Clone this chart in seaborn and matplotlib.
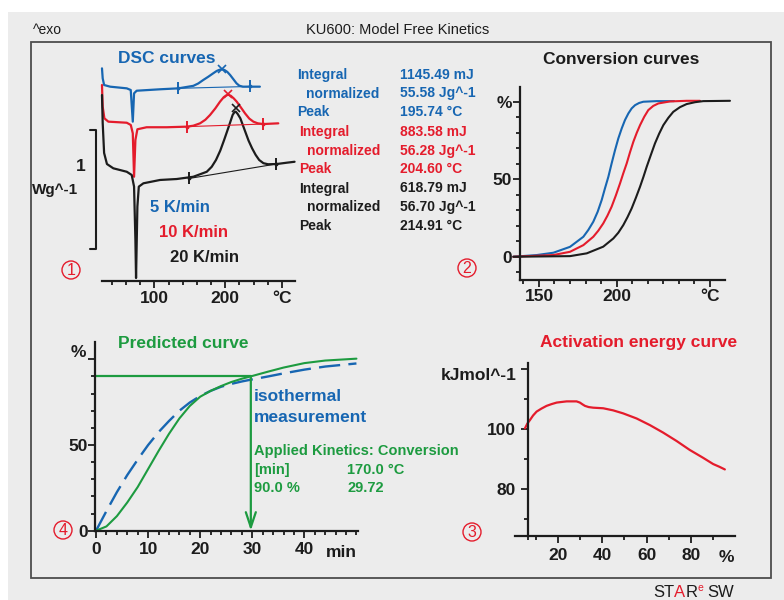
import matplotlib
matplotlib.use("Agg")
import matplotlib.pyplot as plt
from matplotlib import font_manager
from matplotlib.patches import Rectangle, Ellipse
import seaborn as sns

W, H = 784, 600

# ---------------- data ----------------
RATES = [5, 10, 20]                      # heating rates, K/min
INTEGRAL_MJ = [1145.49, 883.58, 618.79]
NORMALIZED_JG = [55.58, 56.28, 56.70]
PEAK_C = [195.74, 204.60, 214.91]
PEAK_HF = [1.785, 1.572, 1.452]          # height of the peak markers (W/g, offset scale)

# DSC heat flow (W/g, curves offset for display) versus temperature (°C)
dsc5_T = [26, 27, 29, 37.5, 61, 66.6, 69.5, 71.3, 75, 108, 134, 155, 162, 169, 176, 183,
          188, 192, 195.7, 199, 203, 207, 211, 216, 220, 225, 235, 249]
dsc5_q = [1.787, 1.703, 1.647, 1.633, 1.619, 1.605, 1.339, 1.577, 1.599, 1.611, 1.619,
          1.640, 1.660, 1.689, 1.716, 1.745, 1.765, 1.775, 1.779, 1.773, 1.757, 1.731,
          1.700, 1.661, 1.641, 1.633, 1.633, 1.633]
dsc10_T = [26, 27, 29.4, 35, 61, 66.7, 69.5, 71.3, 73.2, 76, 89, 117.5, 145.8, 155, 164.5,
           172, 178.6, 186, 192.7, 198, 201.5, 204.6, 208, 212, 216.3, 222, 228, 234,
           239.8, 246, 253.9, 275]
dsc10_q = [1.647, 1.465, 1.367, 1.339, 1.330, 1.311, 1.241, 0.876, 1.185, 1.275, 1.292,
           1.292, 1.297, 1.305, 1.325, 1.355, 1.395, 1.450, 1.507, 1.545, 1.560, 1.565,
           1.556, 1.535, 1.507, 1.460, 1.409, 1.365, 1.339, 1.325, 1.319, 1.325]
dsc20_T = [26, 27, 29, 33, 42, 61, 68, 71.3, 73.2, 74.1, 76, 78, 84.5, 108, 131.6, 155,
           174, 181, 187, 193, 198.5, 205, 210.5, 213, 214.9, 217.5, 221.4, 228.4, 233,
           238, 243, 248, 254, 260.5, 272.8, 286.9, 298]
dsc20_q = [1.563, 1.328, 1.076, 0.983, 0.947, 0.918, 0.891, 0.793, 0.345, 0.025, 0.625,
           0.793, 0.821, 0.849, 0.857, 0.876, 0.918, 0.960, 1.017, 1.095, 1.185, 1.297,
           1.395, 1.418, 1.423, 1.405, 1.367, 1.254, 1.180, 1.115, 1.060, 1.017, 0.990,
           0.981, 0.983, 0.994, 1.002]
# integration baselines (start, end)
base_T = [(134, 235), (145.8, 253.9), (149.4, 271.8)]
base_q = [(1.619, 1.635), (1.297, 1.319), (0.862, 0.983)]
SCALE_BAR_WG = 1.0
SCALE_BAR_Y0 = 0.269

# conversion (%) versus temperature (°C)
conv5_T = [133.5, 148.6, 159.3, 170.0, 178.6, 181.8, 185.0, 187.8, 190.4, 192.5, 194.7,
           196.8, 199.0, 201.1, 203.3, 205.4, 207.6, 209.7, 211.9, 214.5, 217.2, 225.8,
           237.0]
conv5 = [0, 1.1, 2.6, 6.4, 12.9, 17.3, 22.6, 29.0, 36.6, 44.1, 51.6, 60.2, 68.8, 76.3,
         82.8, 88.2, 92.5, 95.7, 97.8, 99.2, 100.0, 100.4, 100.4]
conv10_T = [133.5, 159.3, 170.0, 178.6, 185.0, 188.2, 191.4, 194.1, 196.8, 199.5, 202.2,
            204.3, 206.5, 208.6, 210.8, 213.0, 215.1, 217.8, 220.4, 223.6, 226.9, 234.4,
            245.1, 253.7]
conv10 = [0, 1.1, 3.2, 7.5, 12.9, 16.8, 21.5, 26.5, 32.3, 39.5, 47.3, 53.8, 60.2, 67.3,
          74.2, 80.0, 84.9, 90.3, 94.6, 97.3, 98.9, 100.2, 100.6, 100.6]
conv20_T = [133.5, 170.0, 180.8, 191.4, 197.9, 201.1, 204.3, 207.0, 209.7, 212.4, 215.1,
            217.3, 219.4, 222.1, 224.7, 227.4, 230.1, 233.3, 236.5, 240.8, 245.1, 250.5,
            255.8, 273.0]
conv20 = [0, 0.4, 2.2, 6.5, 11.8, 15.5, 20.4, 25.5, 31.2, 38.0, 45.2, 51.6, 58.1, 65.8,
          73.1, 79.4, 84.9, 89.6, 93.5, 96.5, 98.5, 99.7, 100.4, 100.6]

# isothermal prediction at 170 °C: conversion (%) versus time (min)
time_min = [0, 2, 4, 6, 8, 10, 12, 14, 16, 18, 20, 22, 24, 26, 28, 30, 33, 36, 40, 44, 50]
predicted = [0, 2.5, 8.5, 16.5, 25.5, 36, 46.5, 56.5, 65.5, 72.8, 78.2, 81.6, 84.4, 86.8,
             88.7, 90.3, 92.8, 95.2, 97.8, 99.3, 100.4]
measured = [0, 11.5, 22.5, 32.5, 41.5, 50, 57.5, 64, 70, 74.8, 78.6, 81.6, 84, 85.7,
            87.1, 88.3, 90, 91.8, 94, 95.8, 97.6]
ISO_TEMP_C = 170.0
TARGET_CONV = 90.0
TARGET_TIME = 29.72

# activation energy (kJ/mol) versus conversion (%)
alpha = [4.9, 6.0, 7.2, 8.6, 10.2, 12.4, 14.7, 17.0, 19.3, 21.5, 23.8, 26.0, 28.3, 29.8,
         31.0, 32.1, 33.8, 35.8, 40.4, 44.9, 49.4, 55.5, 61.5, 67.5, 73.6, 79.6, 85.6,
         90.2, 93.0, 95.5]
e_act = [100.3, 101.9, 103.1, 104.6, 105.9, 106.9, 107.8, 108.4, 108.9, 109.1, 109.3,
         109.3, 109.3, 108.9, 108.3, 107.8, 107.4, 107.2, 107.0, 106.3, 105.3, 103.6,
         101.4, 98.9, 96.1, 93.1, 90.5, 88.4, 87.5, 86.6]

# ---------------- style ----------------
BLUE, RED, GREEN, INK = "#1766b2", "#e41c2c", "#1d9b40", "#1c1c1c"
PANEL_BG, FRAME = "#ececec", "#4d4d4d"

sns.set_theme(style="ticks")
_names = {f.name for f in font_manager.fontManager.ttflist}
NARROW = "Liberation Sans Narrow" in _names
plt.rcParams["font.family"] = ["Liberation Sans", "DejaVu Sans"]
AX_FAMILY = ["Liberation Sans Narrow" if NARROW else "Liberation Sans", "DejaVu Sans"]
AX_SIZE = 14 if NARROW else 12.5
TICK_KW = dict(fontsize=AX_SIZE, fontweight="bold", family=AX_FAMILY, color=INK)

fig = plt.figure(figsize=(W / 100, H / 100), dpi=100)
fig.patch.set_facecolor("white")
fig.add_artist(Rectangle((8 / W, 0), 1 - 8 / W, 1 - 12 / H, transform=fig.transFigure,
                         facecolor=PANEL_BG, edgecolor="none", zorder=-10))
fig.add_artist(Rectangle((31 / W, 1 - 578 / H), 740 / W, 536 / H, transform=fig.transFigure,
                         facecolor="none", edgecolor=FRAME, lw=1.3, zorder=-5))


def px_axes(x0, y0, x1, y1):
    ax = fig.add_axes([x0 / W, 1 - y1 / H, (x1 - x0) / W, (y1 - y0) / H])
    ax.set_facecolor("none")
    return ax


def ftext(x, y, s, **kw):
    kw.setdefault("va", "baseline")
    return fig.text(x / W, 1 - y / H, s, **kw)


def circled(x, y, digit):
    fig.add_artist(Ellipse((x / W, 1 - y / H), 18 / W, 18 / H, transform=fig.transFigure,
                           facecolor="none", edgecolor=RED, lw=1.0))
    fig.text(x / W, 1 - (y + 0.5) / H, digit, color=RED, fontsize=11.5, ha="center",
             va="center")


def style_axes(ax, xmaj, xlab, xmin, ymaj=None, ylab=None, ymin=None, xpad=2.0, ypad=1.0):
    for s in ("top", "right"):
        ax.spines[s].set_visible(False)
    for s in ("left", "bottom"):
        ax.spines[s].set_linewidth(1.6)
        ax.spines[s].set_color(INK)
    ax.set_xticks(xmaj, xlab, **TICK_KW)
    ax.set_xticks(xmin, minor=True)
    if ymaj is None:
        ax.spines["left"].set_visible(False)
        ax.set_yticks([])
    else:
        ax.set_yticks(ymaj, ylab, **TICK_KW)
        ax.set_yticks(ymin, minor=True)
    ax.tick_params(which="both", direction="out", color=INK, width=1.3)
    ax.tick_params(which="major", length=5)
    ax.tick_params(which="minor", length=3.2)
    ax.tick_params(axis="x", which="major", pad=xpad)
    ax.tick_params(axis="y", which="major", pad=ypad)
    ax.set_xlabel("")
    ax.set_ylabel("")


# ---------------- header ----------------
ftext(33, 34, "^exo", fontsize=10, color=INK)
ftext(398, 34, "KU600: Model Free Kinetics", fontsize=10.5, color=INK, ha="center")

# ---------------- 1: DSC curves ----------------
ax1 = px_axes(101.7, 60, 295, 281)
dsc = [(dsc5_T, dsc5_q), (dsc10_T, dsc10_q), (dsc20_T, dsc20_q)]
cols = [BLUE, RED, INK]
for (T, q), c in zip(dsc, cols):
    sns.lineplot(x=T, y=q, color=c, lw=1.6, ax=ax1, sort=False, clip_on=False)
for (Tb, qb), c in zip(zip(base_T, base_q), cols):
    ax1.plot(Tb, qb, color=c, lw=0.8, clip_on=False)
    ax1.plot(Tb, qb, ls="none", marker="|", ms=8, mew=1.4, color=c, clip_on=False)
    ax1.plot(Tb, qb, ls="none", marker=".", ms=3.5, color=c, clip_on=False)
for Tp, qp, c in zip(PEAK_C, PEAK_HF, cols):
    ax1.plot([Tp], [qp], ls="none", marker="x", ms=6, mew=1.2, color=c, clip_on=False)
# 1 W/g scale bracket
yb0, yb1 = SCALE_BAR_Y0, SCALE_BAR_Y0 + SCALE_BAR_WG
ax1.plot([9.1, 17.6, 17.6, 9.1], [yb1, yb1, yb0, yb0], color=INK, lw=1.5, clip_on=False)
ax1.set_xlim(25.6, 298.6)
ax1.set_ylim(0, 221 / 119)
style_axes(ax1, [100, 200, 280], ["100", "200", "°C"],
           [40, 60, 80, 120, 140, 160, 180, 220, 240, 260], xpad=2.0)
ftext(80.5, 171, "1", fontsize=AX_SIZE, fontweight="bold", family=AX_FAMILY, color=INK,
      ha="center")
ftext(78, 194, "Wg^-1", fontsize=AX_SIZE - 1.5, fontweight="bold", family=AX_FAMILY,
      color=INK, ha="right")
ftext(166.5, 63.3, "DSC curves", fontsize=12.5, fontweight="bold", color=BLUE, ha="center")
for (x, y), r, c in zip([(150, 211.7), (159.3, 236.7), (170, 261.7)], RATES, cols):
    ftext(x, y, f"{r} K/min", fontsize=12, fontweight="bold", color=c)

rows = [79, 97.5, 116, 136, 154.5, 173, 192.5, 211, 229.5]
col1 = [(297, 306), (299, 307), (299, 307)]
for i, c in enumerate(cols):
    y0, y1, y2 = rows[3 * i:3 * i + 3]
    xa, xb = col1[i]
    kw = dict(fontsize=10, fontweight="bold", color=c)
    ftext(xa, y0, "Integral", **kw)
    ftext(xb, y1, "normalized", **kw)
    ftext(xa, y2, "Peak", **kw)
    ftext(399.5, y0, f"{INTEGRAL_MJ[i]:.2f} mJ", **kw)
    ftext(399.5, y1, f"{NORMALIZED_JG[i]:.2f} Jg^-1", **kw)
    ftext(399.5, y2, f"{PEAK_C[i]:.2f} °C", **kw)
circled(71, 270, "1")

# ---------------- 2: conversion curves ----------------
ax2 = px_axes(520, 86.7, 725, 280)
for T, cv, c in zip([conv5_T, conv10_T, conv20_T], [conv5, conv10, conv20], cols):
    sns.lineplot(x=T, y=cv, color=c, lw=1.5, ax=ax2, sort=False, clip_on=False)
ax2.set_xlim(137.8, 269.8)
ax2.set_ylim(-15, 109.7)
style_axes(ax2, [150, 200, 260], ["150", "200", "°C"],
           [140, 160, 170, 180, 190, 210, 220, 230, 240, 250],
           [0, 50, 100], ["0", "50", "%"], [-10, 10, 20, 30, 40, 60, 70, 80, 90],
           xpad=1.3, ypad=1.0)
ftext(621, 64, "Conversion curves", fontsize=12.5, fontweight="bold", color=INK,
      ha="center")
circled(467, 268, "2")

# ---------------- 4: predicted curve ----------------
ax4 = px_axes(95, 341.7, 358, 530.7)
sns.lineplot(x=time_min, y=measured, color=BLUE, lw=1.7, ax=ax4, sort=False,
             linestyle=(0, (9, 3.5)), clip_on=False)
sns.lineplot(x=time_min, y=predicted, color=GREEN, lw=1.5, ax=ax4, sort=False,
             clip_on=False)
ax4.plot([0, TARGET_TIME], [TARGET_CONV, TARGET_CONV], color=GREEN, lw=1.6)
ax4.annotate("", xy=(TARGET_TIME, 0), xytext=(TARGET_TIME, TARGET_CONV),
             arrowprops=dict(arrowstyle="->,head_length=0.9,head_width=0.3", color=GREEN,
                             lw=1.6, shrinkA=0, shrinkB=0))
ax4.set_xlim(-0.2, 50.3)
ax4.set_ylim(0, 110.3)
style_axes(ax4, [0, 10, 20, 30, 40], ["0", "10", "20", "30", "40"],
           [2, 4, 6, 8, 12, 14, 16, 18, 22, 24, 26, 28, 32, 34, 36, 38, 42, 44, 46, 48, 50],
           [0, 50, 100], ["0", "50", ""], [10, 20, 30, 40, 60, 70, 80, 90],
           xpad=3.3, ypad=0.3)
ftext(341.7, 557, "min", fontsize=AX_SIZE, fontweight="bold", family=AX_FAMILY,
      color=INK, ha="center")
ftext(86, 357, "%", fontsize=AX_SIZE, fontweight="bold", family=AX_FAMILY, color=INK,
      ha="right")
ftext(183.5, 348.3, "Predicted curve", fontsize=12.5, fontweight="bold", color=GREEN,
      ha="center")
ftext(254, 400.7, "isothermal", fontsize=12.5, fontweight="bold", color=BLUE)
ftext(254, 421.7, "measurement", fontsize=12.5, fontweight="bold", color=BLUE)
kw = dict(fontsize=10.5, fontweight="bold", color=GREEN)
ftext(254, 455, "Applied Kinetics: Conversion", **kw)
ftext(254, 474, "[min]", **kw)
ftext(347, 474, f"{ISO_TEMP_C:.1f} °C", **kw)
ftext(254, 491.7, f"{TARGET_CONV:.1f} %", **kw)
ftext(347, 491.7, f"{TARGET_TIME:.2f}", **kw)
circled(63, 530, "4")

# ---------------- 3: activation energy ----------------
ax3 = px_axes(515, 362.7, 735, 536)
sns.lineplot(x=alpha, y=e_act, color=RED, lw=1.6, ax=ax3, sort=False, clip_on=False)
ax3.set_xlim(0.4, 100.1)
ax3.set_ylim(64.4, 122.2)
ax3.spines["left"].set_position(("data", 6.1))
style_axes(ax3, [20, 40, 60, 80], ["20", "40", "60", "80"], [6.1, 10, 30, 50, 70, 90],
           [80, 100, 120], ["80", "100", ""], [70, 90, 110], xpad=3.3, ypad=3.6)
ftext(517, 380, "kJmol^-1", fontsize=AX_SIZE, fontweight="bold", family=AX_FAMILY,
      color=INK, ha="right")
ftext(726.5, 562, "%", fontsize=AX_SIZE, fontweight="bold", family=AX_FAMILY, color=INK,
      ha="center")
ftext(639, 346.7, "Activation energy curve", fontsize=12.5, fontweight="bold", color=RED,
      ha="center")
circled(472, 532, "3")

# ---------------- footer ----------------
renderer = fig.canvas.get_renderer()
cx = 653
for s, c, dy, sz in [("ST", INK, 0, 12), ("A", RED, 0, 12), ("R", INK, 0, 12),
                     ("e", RED, -6, 7.5)]:
    t = ftext(cx, 597 + dy, s, fontsize=sz, color=c)
    cx += t.get_window_extent(renderer=renderer).width
ftext(cx + 4, 597, "SW", fontsize=12, color=INK)

fig.savefig("out.png", dpi=100, facecolor=fig.get_facecolor())
